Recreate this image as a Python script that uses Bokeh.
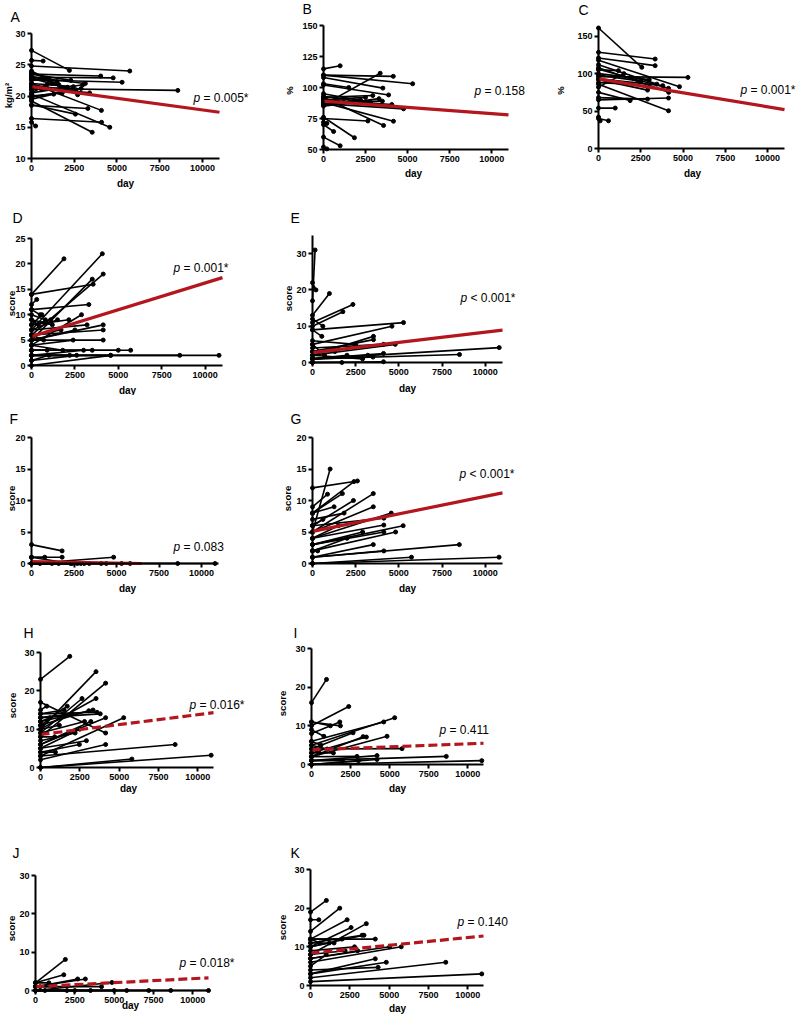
from bokeh.plotting import figure
from bokeh.models import Range1d, FixedTicker, Label, ColumnDataSource
from bokeh.layouts import row, column
from bokeh.embed import file_html
from bokeh.resources import INLINE
import math

# ---------------- data ----------------
X_TICKS = [0, 2500, 5000, 7500, 10000]
X_TICK_LABELS = ["0", "2500", "5000", "7500", "10000"]
X_MAX = 11000
START_DAY = 0
FIT_DAYS = [0, 11000]
F_FIT_DAYS = [0, 6500]

A_DAY   = [2220, 680, 5750, 4050, 4780, 5300, 8560, 3550, 4580, 4090, 2570, 4100, 240, 3150, 3400, 2450, 1800, 720, 1200, 2900, 1500, 3300, 2000, 900, 2700, 1000, 1600, 2100, 2600, 3000, 1300, 600, 2300]
A_START = [27.3, 25.7, 24.8, 23.5, 23.0, 22.6, 21.2, 19.2, 20.3, 22.0, 18.6, 16.4, 15.8, 23.0, 21.5, 22.0, 20.0, 22.8, 21.0, 19.8, 23.8, 18.5, 21.8, 20.5, 24.0, 22.5, 23.2, 21.0, 22.8, 20.5, 19.5, 21.5, 23.5]
A_END   = [24.1, 25.6, 24.0, 23.2, 22.9, 22.2, 20.9, 14.2, 15.0, 17.7, 17.1, 15.8, 15.2, 22.0, 20.5, 21.5, 20.5, 22.6, 22.0, 21.2, 22.3, 18.0, 21.0, 21.8, 20.2, 22.8, 21.8, 21.4, 21.0, 21.8, 20.3, 21.0, 22.5]
A_FIT = [21.5, 17.4]

B_DAY   = [990, 5300, 3370, 4150, 3530, 2930, 4160, 3570, 2640, 1840, 990, 600, 200, 4760, 4060, 3870, 200, 2500, 3300, 1500, 2000, 3500, 2800, 1200, 2200]
B_START = [115, 110, 86, 110, 108, 92, 88, 92, 75, 76, 60, 70, 72, 87, 90, 102, 52, 90, 85, 103, 93, 88, 95, 91, 86]
B_END   = [117.5, 103, 111.5, 109, 99.5, 93.5, 72.8, 69.4, 73, 59.5, 53, 64.5, 71, 82.8, 86.3, 94, 50.5, 92, 91, 100, 89, 89, 88, 88, 90]
B_FIT = [89, 78]

C_DAY   = [2560, 3350, 3350, 5290, 4790, 4140, 4140, 4140, 2900, 1870, 990, 590, 2900, 1180, 3450, 100, 2000, 3000, 1500, 4150, 2500, 3800]
C_START = [161, 128.5, 121, 96, 118, 106, 86, 65, 68, 75, 54, 40, 92, 105, 112, 42, 88, 100, 82, 108, 98, 93]
C_END   = [108.5, 119.5, 110.7, 95, 82.6, 80.4, 50.4, 67.4, 66, 64, 54, 37, 78, 104, 86, 37, 86, 92, 100, 75, 90, 84]
C_FIT = [93, 52]

D_DAY   = [1870, 4080, 4130, 3500, 3550, 3300, 2880, 4130, 4130, 4130, 5710, 4560, 8540, 10800, 4560, 2150, 1200, 800, 600, 2500, 3000, 1500, 500, 900, 1800, 2200, 700, 300, 1000, 3500, 5000, 2600, 400, 1100, 1700, 2400, 3200]
D_START = [14, 7, 6, 5, 14, 11, 4, 5, 6, 5, 3, 2, 2, 2, 0, 8, 9, 10, 8, 5, 2, 7, 11, 3, 4, 2, 6, 12, 1, 3, 3, 1, 9, 8, 6, 4, 7]
D_END   = [21, 22, 18, 17, 16, 12, 10, 8, 7, 5, 3, 2, 2, 2, 2, 9, 8, 9, 10, 7, 3, 9, 10, 3, 3, 2, 5, 13, 2, 3, 3, 2, 8, 9, 7, 5, 8]
D_FIT = [5.7, 17.3]

E_DAY   = [150, 980, 2340, 1760, 5270, 4600, 3530, 3530, 4790, 4110, 10810, 8510, 4110, 4110, 1700, 540, 2900, 3200, 700, 1300, 2000, 3500, 600, 200, 2500]
E_START = [17, 13, 11, 10, 9, 5, 2, 3, 2, 4, 1, 1, 1, 0, 0, 9, 2, 1, 5, 3, 1, 1, 12, 22, 6]
E_END   = [31, 19, 16, 14, 11, 10, 7.2, 6.3, 5, 5, 4.1, 2.2, 2.5, 0.2, 0, 7.2, 1, 2, 2, 3, 2, 1.5, 10, 20, 5]
E_FIT = [2.7, 8.9]

F_DAY   = [1800, 1800, 780, 2300, 4830, 500, 1200, 1600, 2400, 2700, 2900, 3100, 3400, 4100, 4400, 5300, 5800, 8600, 10800]
F_START = [3, 1, 1, 1, 0, 0, 0, 0, 0, 0, 0, 0, 0, 0, 0, 0, 0, 0, 0]
F_END   = [2, 1, 1, 0, 1, 0, 0, 0, 0, 0, 0, 0, 0, 0, 0, 0, 0, 0, 0]
F_FIT = [0.3, 0.0]

G_DAY   = [1020, 2600, 2400, 1730, 3520, 2370, 3520, 4560, 4130, 5250, 4130, 4810, 4130, 3520, 4130, 8500, 5730, 10800, 1830, 1250, 870, 600, 1500, 2900, 300, 2000]
G_START = [5, 12, 8, 8, 5, 6, 5, 4, 6, 3, 4, 2, 3, 1, 1, 1, 0, 0, 7, 8, 9, 6, 4, 3, 2, 2]
G_END   = [15, 13.1, 13, 11.1, 11.1, 10, 9, 8, 7.2, 6, 6.1, 5, 5, 3, 2, 3, 1, 1, 8, 9, 11, 7, 6, 5, 2, 4]
G_FIT = [5.1, 11.2]

H_DAY   = [1860, 3530, 4140, 2640, 3530, 4140, 5290, 4140, 4140, 8560, 5810, 10850, 2920, 2470, 950, 3340, 3070, 3590, 1500, 2000, 2800, 1200, 600, 3800, 2200, 900, 1700, 3200, 400, 2500]
H_START = [23, 10, 8, 9, 10, 17, 3, 6, 2, 3, 0, 0, 5, 4, 4, 12, 11, 14, 14, 13, 9, 10, 12, 13, 7, 8, 11, 6, 15, 5]
H_END   = [29, 25, 22, 18, 18, 9, 13, 13, 6, 6, 2.2, 3.2, 7, 6, 4, 15, 14.8, 14.4, 15, 14, 12, 11, 13, 14, 9, 8, 16, 12, 16, 10]
H_FIT = [8.6, 14.3]

I_DAY   = [960, 2380, 5320, 4620, 1810, 1850, 1210, 2660, 3510, 3300, 4830, 790, 5790, 8620, 10890, 4190, 4190, 2910, 1400, 600, 2000, 3000, 500, 1000]
I_START = [16, 10, 5, 6, 8, 11, 11, 4, 3, 2, 2, 9, 4, 1, 0, 1, 0, 2, 3, 6, 1, 0, 2, 5]
I_END   = [22, 15, 12.1, 11, 11, 10, 10, 8.2, 7.1, 7.2, 7.3, 7.3, 4.1, 2.1, 1, 2.3, 1.3, 2.1, 3, 5, 1, 1, 3, 4]
I_FIT = [3.8, 5.5]

J_DAY   = [1900, 1800, 2680, 3170, 4860, 850, 1200, 2000, 2500, 3500, 4200, 5000, 5800, 7200, 8600, 11000, 600, 300]
J_START = [2, 2, 1, 1, 0, 2, 1, 0, 0, 0, 1, 0, 0, 0, 0, 0, 0, 1]
J_END   = [8.1, 4.1, 3, 3, 2.1, 2, 1, 0, 0, 0, 1, 0, 0, 0, 0, 0, 0, 1]
J_FIT = [1.0, 3.3]

K_DAY   = [1010, 1860, 2330, 530, 3550, 2580, 4120, 3280, 3400, 5770, 5030, 4120, 4820, 8600, 10890, 2000, 1500, 2800, 1000, 3000, 4300, 600, 2200, 1200]
K_START = [19, 14, 12, 17, 8, 10, 12, 11, 10, 6, 7, 3, 3, 2, 1, 12, 11, 9, 5, 7, 4, 12, 8, 10]
K_END   = [22, 20, 17, 17, 16, 15, 12, 13, 13, 10, 10, 6.9, 6, 6, 3, 12, 11, 10, 8, 9, 4.7, 11, 9, 11]
K_FIT = [8.4, 12.8]

Y_RANGES = {"A": (10, 30), "B": (50, 150), "C": (0, 163), "D": (0, 25), "E": (0, 35), "F": (0, 20),
            "G": (0, 20), "H": (0, 30), "I": (0, 30), "J": (0, 30), "K": (0, 30)}
Y_TICKS = {"A": [10, 15, 20, 25, 30], "B": [50, 75, 100, 125, 150], "C": [0, 50, 100, 150],
           "D": [0, 5, 10, 15, 20, 25], "E": [0, 10, 20, 30], "F": [0, 5, 10, 15, 20],
           "G": [0, 5, 10, 15, 20], "H": [0, 10, 20, 30], "I": [0, 10, 20, 30], "J": [0, 10, 20, 30],
           "K": [0, 10, 20, 30]}
Y_TITLES = {"A": "kg/m²", "B": "%", "C": "%", "D": "score", "E": "score", "F": "score", "G": "score",
            "H": "score", "I": "score", "J": "score", "K": "score"}
P_TEXTS = {"A": "= 0.005*", "B": "= 0.158", "C": "= 0.001*", "D": "= 0.001*", "E": "< 0.001*",
           "F": "= 0.083", "G": "< 0.001*", "H": "= 0.016*", "I": "= 0.411", "J": "= 0.018*", "K": "= 0.140"}
DASHED = {"A": False, "B": False, "C": False, "D": False, "E": False, "F": False, "G": False,
          "H": True, "I": True, "J": True, "K": True}

DATA = {"A": (A_DAY, A_START, A_END, FIT_DAYS, A_FIT), "B": (B_DAY, B_START, B_END, FIT_DAYS, B_FIT),
        "C": (C_DAY, C_START, C_END, FIT_DAYS, C_FIT), "D": (D_DAY, D_START, D_END, FIT_DAYS, D_FIT),
        "E": (E_DAY, E_START, E_END, FIT_DAYS, E_FIT), "F": (F_DAY, F_START, F_END, F_FIT_DAYS, F_FIT),
        "G": (G_DAY, G_START, G_END, FIT_DAYS, G_FIT), "H": (H_DAY, H_START, H_END, FIT_DAYS, H_FIT),
        "I": (I_DAY, I_START, I_END, FIT_DAYS, I_FIT), "J": (J_DAY, J_START, J_END, FIT_DAYS, J_FIT),
        "K": (K_DAY, K_START, K_END, FIT_DAYS, K_FIT)}

# ---------------- layout (page pixel positions) ----------------
# fig = (left, top, width, height); frame = plotting area of the panel (left, right, top, bottom)
SPEC = {
    "A": dict(fig=(0, 0, 282, 190), frame=(31, 219, 33, 158), letter=(10, 16), ytitle=(8, 95), xtitle=(125, 183), ptxt=(193, 97)),
    "B": dict(fig=(282, 0, 266, 190), frame=(323, 508, 25, 149), letter=(302, 8), ytitle=(289, 90), xtitle=(413, 173), ptxt=(474, 90)),
    "C": dict(fig=(548, 0, 249, 190), frame=(598, 784, 26, 148), letter=(578, 9), ytitle=(560, 90), xtitle=(692, 173), ptxt=(740, 89)),
    "D": dict(fig=(0, 190, 272, 205), frame=(31, 222, 238, 365), letter=(12, 217), ytitle=(11, 303), xtitle=(127, 390), ptxt=(173, 267)),
    "E": dict(fig=(272, 190, 300, 205), frame=(312, 502, 235, 362), letter=(290, 217), ytitle=(288, 298), xtitle=(407, 388), ptxt=(460, 297)),
    "F": dict(fig=(0, 395, 272, 200), frame=(31, 218, 437, 563), letter=(9, 418), ytitle=(11, 498), xtitle=(127, 588), ptxt=(173, 546)),
    "G": dict(fig=(272, 395, 300, 200), frame=(312, 502, 437, 563), letter=(290, 418), ytitle=(287, 498), xtitle=(407, 588), ptxt=(459, 473)),
    "H": dict(fig=(0, 595, 272, 200), frame=(40, 213, 652, 767), letter=(23, 632), ytitle=(12, 705), xtitle=(128, 788), ptxt=(189, 704)),
    "I": dict(fig=(272, 595, 300, 200), frame=(311, 483, 648, 764), letter=(293, 632), ytitle=(282, 703), xtitle=(397, 788), ptxt=(439, 729)),
    "J": dict(fig=(0, 795, 272, 224), frame=(35, 208, 875, 990), letter=(12, 852), ytitle=(11, 928), xtitle=(130, 1005), ptxt=(179, 962)),
    "K": dict(fig=(272, 795, 300, 224), frame=(310, 483, 869, 985), letter=(290, 852), ytitle=(282, 927), xtitle=(397, 1008), ptxt=(457, 921)),
}

RED = "#b3161d"
FONT = "Liberation Sans"


def build(key):
    day, v0, v1, fit_days, fit = DATA[key]
    s = SPEC[key]
    fx, fy, fw, fh = s["fig"]
    L, R, T, B = s["frame"]
    ymin, ymax = Y_RANGES[key]
    kx = X_MAX / (R - L)            # data units per pixel
    ky = (ymax - ymin) / (B - T)
    x_range = Range1d(0 - (L - fx) * kx, X_MAX + (fx + fw - R) * kx)
    y_range = Range1d(ymin - (fy + fh - B) * ky, ymax + (T - fy) * ky)
    p = figure(width=fw, height=fh, x_range=x_range, y_range=y_range,
               output_backend="svg", toolbar_location=None,
               min_border_left=0, min_border_right=0, min_border_top=0, min_border_bottom=0)
    p.title.visible = False
    p.outline_line_color = None
    p.xgrid.visible = False
    p.ygrid.visible = False
    p.xaxis.ticker = FixedTicker(ticks=X_TICKS)
    p.xaxis.major_label_overrides = {t: l for t, l in zip(X_TICKS, X_TICK_LABELS)}
    p.yaxis.ticker = FixedTicker(ticks=Y_TICKS[key])
    p.xaxis.fixed_location = ymin
    p.yaxis.fixed_location = 0
    p.xaxis.bounds = (0, X_MAX)
    p.yaxis.bounds = (ymin, ymax)
    for ax in list(p.xaxis) + list(p.yaxis):
        ax.axis_line_width = 2
        ax.axis_line_color = "black"
        ax.major_tick_line_width = 2
        ax.major_tick_line_color = "black"
        ax.major_tick_out = 4
        ax.major_tick_in = 0
        ax.minor_tick_line_color = None
        ax.major_label_text_font = FONT
        ax.major_label_text_font_style = "bold"
        ax.major_label_text_font_size = "9px"
        ax.major_label_text_color = "black"
        ax.major_label_standoff = 2

    src = ColumnDataSource(dict(x0=[START_DAY] * len(day), y0=v0, x1=day, y1=v1))
    p.segment("x0", "y0", "x1", "y1", source=src, line_color="black", line_width=1.6)
    p.scatter("x0", "y0", source=src, size=4, color="black")
    p.scatter("x1", "y1", source=src, size=4, color="black")
    p.line(fit_days, fit, line_color=RED, line_width=3.2,
           line_dash="9 4" if DASHED[key] else "solid")

    def lab(text, pos, align="left", angle=0.0, size="12px", style="normal"):
        p.add_layout(Label(x=0, y=ymin, x_offset=pos[0] - L, y_offset=B - pos[1], text=text,
                           text_align=align, text_baseline="middle", angle=angle,
                           text_font=FONT, text_font_size=size, text_font_style=style,
                           text_color="black"))

    lab(key, s["letter"], size="14px")
    lab(Y_TITLES[key], s["ytitle"], align="center", angle=math.pi / 2, size="9.5px", style="bold")
    lab("day", s["xtitle"], align="center", size="10px", style="bold")
    lab("p", s["ptxt"], style="italic")
    lab(P_TEXTS[key], (s["ptxt"][0] + 10, s["ptxt"][1]))
    return p


figs = {k: build(k) for k in SPEC}
layout = column(
    row(figs["A"], figs["B"], figs["C"]),
    row(figs["D"], figs["E"]),
    row(figs["F"], figs["G"]),
    row(figs["H"], figs["I"]),
    row(figs["J"], figs["K"]),
)

open("out.html", "w").write(file_html(layout, INLINE))
